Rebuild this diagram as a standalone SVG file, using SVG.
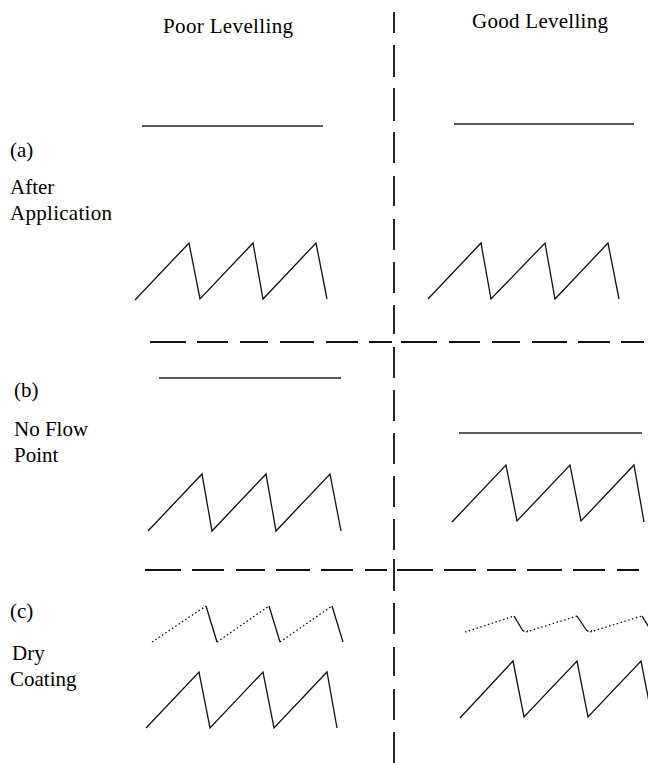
<svg xmlns="http://www.w3.org/2000/svg" width="648" height="763" viewBox="0 0 648 763">
<style>
text{font-family:"Liberation Serif","Times New Roman",serif;font-size:21px;fill:#000}
.solid{stroke:#222;stroke-width:1.6;fill:none}
.dash{stroke:#111;stroke-width:1.8;fill:none}
.zig{stroke:#111;stroke-width:1.3;fill:none;stroke-linejoin:miter}
.dot{stroke:#111;stroke-width:1.3;fill:none;stroke-dasharray:1.5 2.5}
</style>
<rect width="648" height="763" fill="#fff"/>
<g id="headers">
<text x="163" y="33" textLength="130" lengthAdjust="spacing">Poor Levelling</text>
<text x="472" y="28" textLength="136" lengthAdjust="spacing">Good Levelling</text>
</g>
<g id="dividers">
<path class="dash" d="M394,12V33M394,45V77M394,88V121M394,132V163M394,176V206M394,219V250M394,262V293M394,305V334M394,347V378M394,390V421M394,433V464M394,476V507M394,519V550M394,559V591M394,603V634M394,647V676M394,689V720M394,732V763"/>
<path class="dash" d="M150,342H186M197,342H228M240,342H268M280,342H314M326,342H358M369,342H392M401,342H437M449,342H480M492,342H520M532,342H567M578,342H610M621,342H644"/>
<path class="dash" d="M145,570H181M192,570H224M236,570H265M276,570H310M321,570H353M365,570H387M397,570H433M444,570H476M487,570H516M527,570H562M573,570H605M617,570H639"/>
</g>
<g id="panel-a">
<text x="10" y="157">(a)</text>
<text x="10" y="194">After</text>
<text x="10" y="220" textLength="102" lengthAdjust="spacing">Application</text>
<line class="solid" x1="142" y1="126" x2="323" y2="126"/>
<line class="solid" x1="454" y1="124" x2="634" y2="124"/>
<polyline class="zig" points="135,300 189,243 200,299 253,243 263,299 316,243 327,299"/>
<polyline class="zig" points="428,299 481,243 491,299 545,243 555,299 608,243 619,299"/>
</g>
<g id="panel-b">
<text x="14" y="397">(b)</text>
<text x="14" y="436">No Flow</text>
<text x="14" y="462">Point</text>
<line class="solid" x1="159" y1="378" x2="341" y2="378"/>
<line class="solid" x1="459" y1="433" x2="642" y2="433"/>
<polyline class="zig" points="148,531 202,474 212,531 266,474 276,531 330,474 341,531"/>
<polyline class="zig" points="452,522 506,465 517,521 570,465 581,521 634,465 644,522"/>
</g>
<g id="panel-c">
<text x="10" y="618">(c)</text>
<text x="12" y="660">Dry</text>
<text x="10" y="686">Coating</text>
<path class="dot" d="M152,642L206,606M217,642L269,606M280,642L332,606"/>
<path class="zig" d="M206,606L217,642M269,606L280,642M332,606L343,642"/>
<path class="dot" d="M465,632L514,616M526,632L577,616M590,632L642,616"/>
<path class="zig" d="M514,616L523,631M577,616L587,631M642,616L650,629"/>
<path class="dot" d="M523,631H528M587,631H592"/>
<polyline class="zig" points="146,728 199,672 210,728 263,672 274,728 327,672 337,728"/>
<polyline class="zig" points="460,718 513,661 524,717 577,661 588,717 641,661 652,717"/>
</g>
</svg>
